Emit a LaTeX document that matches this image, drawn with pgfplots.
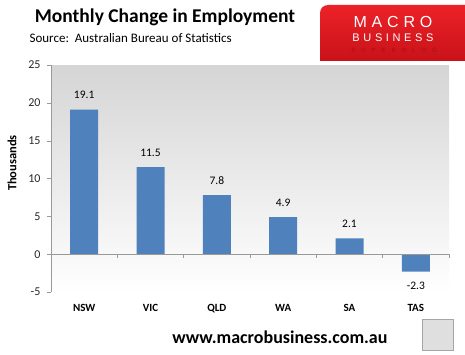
\documentclass[border=0pt]{standalone}
\usepackage{pgfplots}
\pgfplotsset{compat=1.18}
\usepackage{fontspec}
\setmainfont{Carlito}
\newfontfamily\logofont{Liberation Sans}
\definecolor{barblue}{RGB}{79,129,189}
\definecolor{logored}{RGB}{236,34,40}
\definecolor{logobot}{RGB}{200,18,24}
\definecolor{logodark}{RGB}{165,15,20}
\begin{document}
\begin{tikzpicture}[x=1pt,y=1pt]
\path (0,0) rectangle (465,354);
% title
\node[font=\bfseries\fontsize{19.5}{22}\selectfont, anchor=center] at (165,337) {Monthly Change in Employment};
\node[font=\fontsize{13}{15}\selectfont, anchor=west] at (26,316) {Source:\ \ Australian Bureau of Statistics};
% logo
\shade[top color=logored, bottom color=logobot] (465,349) -- (328,349) to[out=180,in=90] (320,341) -- (320,293) -- (465,293) -- cycle;
\node[text=white, font=\logofont\addfontfeature{LetterSpace=30}\fontsize{16}{16}\selectfont] at (393,332) {MACRO};
\node[text=white, font=\logofont\addfontfeature{LetterSpace=33}\fontsize{11}{11}\selectfont] at (393,316) {BUSINESS};
\node[text=logodark, font=\logofont\addfontfeature{LetterSpace=100}\fontsize{6}{6}\selectfont] at (394,304) {SUPERBLOG};
% y label
\node[rotate=90, font=\bfseries\fontsize{12.5}{14}\selectfont] at (12,191) {Thousands};
% url
\node[font=\bfseries\fontsize{18}{20}\selectfont] at (280,17) {www.macrobusiness.com.au};
% fox placeholder
\draw[gray!70, fill=gray!25, line width=1pt] (422,4) rectangle (453,35);
\begin{axis}[
  at={(51pt,62pt)}, anchor=south west,
  width=398pt, height=227pt, scale only axis,
  xmin=-0.5, xmax=5.5, ymin=-5, ymax=25,
  ybar, bar width=28pt,
  axis background/.style={top color=gray!33, middle color=white, bottom color=white},
  axis x line*=bottom, axis y line*=left,
  x axis line style={draw=none},
  y axis line style={gray!80},
  xtick={0,1,2,3,4,5},
  xticklabels={NSW,VIC,QLD,WA,SA,TAS},
  xticklabel style={font=\bfseries\fontsize{11}{13}\selectfont, yshift=-5pt},
  major x tick style={draw=none},
  ytick={-5,0,5,10,15,20,25},
  ytick style={gray!80},
  tick align=outside, major tick length=4pt,
  yticklabel style={font=\fontsize{12}{14}\selectfont, text=black!85, xshift=-3pt},
  /pgf/number format/assume math mode=true,
  nodes near coords,
  nodes near coords style={font=\fontsize{11.5}{13}\selectfont, text=black, inner sep=10.5pt, /pgf/number format/.cd, fixed, fixed zerofill, precision=1},
  enlarge x limits=false,
  clip=false,
]
\addplot[fill=barblue, draw=none] coordinates {(0,19.1) (1,11.5) (2,7.8) (3,4.9) (4,2.1) (5,-2.3)};
\draw[gray!80] (axis cs:-0.5,0) -- (axis cs:5.5,0);
\pgfplotsinvokeforeach{0.5,1.5,2.5,3.5,4.5,5.5}{
  \draw[gray!80] (axis cs:#1,0) -- ([yshift=-4pt]axis cs:#1,0);
}
\end{axis}
\end{tikzpicture}
\end{document}
